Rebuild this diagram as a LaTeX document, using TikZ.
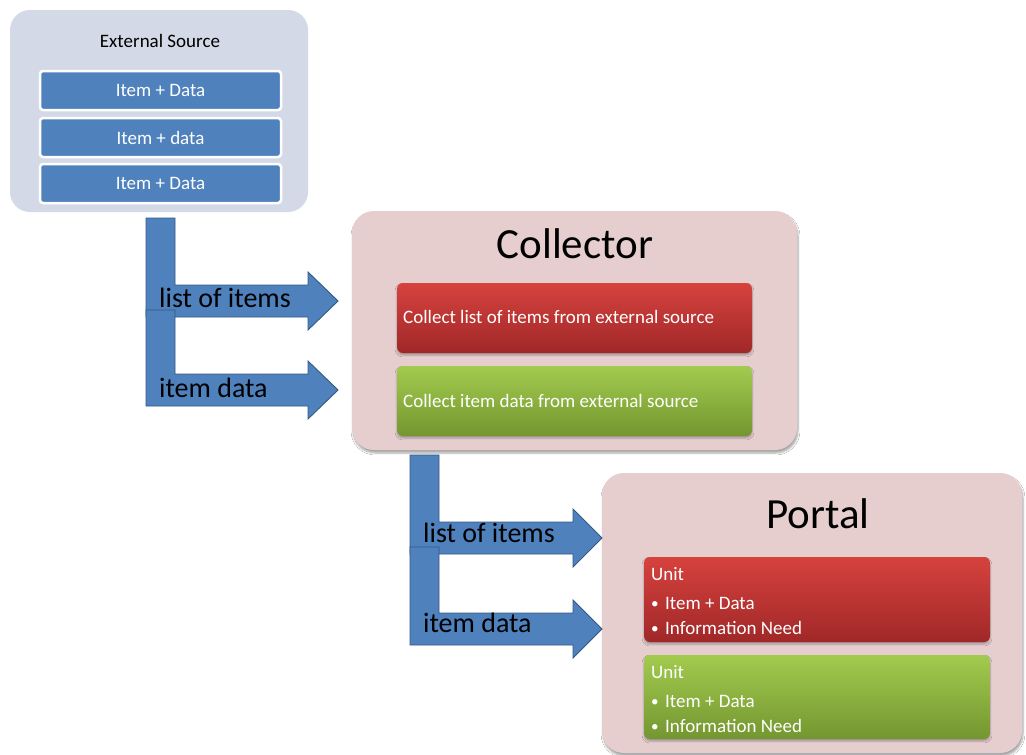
\documentclass[tikz,border=0pt]{standalone}
\usepackage{fontspec}
\setmainfont{Carlito}
\usetikzlibrary{shadows,shadows.blur}

\definecolor{srcbg}{RGB}{211,217,231}
\definecolor{panelbg}{RGB}{230,206,207}
\definecolor{itemblue}{RGB}{79,129,189}
\definecolor{flowedge}{RGB}{52,88,132}
\definecolor{redtop}{RGB}{214,66,62}
\definecolor{redbot}{RGB}{160,40,40}
\definecolor{greentop}{RGB}{162,203,78}
\definecolor{greenbot}{RGB}{116,150,48}

\newcommand\fsz[1]{\fontsize{#1}{#1}\selectfont}
\newcommand\bul{\makebox[14pt][l]{\raisebox{0.5pt}{\scalebox{0.8}{\textbullet}}}}

% L-shaped block arrow: left x, top y, shaft top y, head base x, tip x
\newcommand\bentarrow[5]{%
  \filldraw[flow] (#1,#2) -- ({#1+29},#2) -- ({#1+29},#3) -- (#4,#3)
    -- (#4,{#3-13}) -- (#5,{#3+16}) -- (#4,{#3+45}) -- (#4,{#3+32})
    -- (#1,{#3+32}) -- cycle;}

\begin{document}
\begin{tikzpicture}[x=1pt,y=-1pt,
  box/.style={anchor=north west, inner sep=0pt, outer sep=0pt},
  panel/.style={box, rounded corners=22pt, fill=panelbg,
    blur shadow={shadow xshift=1pt, shadow yshift=-3pt, shadow blur steps=6, shadow opacity=35}},
  srcpanel/.style={box, rounded corners=20pt, fill=srcbg},
  item/.style={inner sep=0pt, minimum width=241pt, minimum height=39pt, rounded corners=3pt,
    fill=itemblue, draw=white, line width=2.5pt, text=white, font=\fsz{19}},
  redbox/.style={box, rounded corners=6pt, top color=redtop, bottom color=redbot,
    blur shadow={shadow xshift=0pt, shadow yshift=-2pt, shadow blur steps=4, shadow opacity=30}},
  greenbox/.style={box, rounded corners=6pt, top color=greentop, bottom color=greenbot,
    blur shadow={shadow xshift=0pt, shadow yshift=-2pt, shadow blur steps=4, shadow opacity=30}},
  title/.style={anchor=base, inner sep=0pt, font=\fsz{43}},
  intext/.style={anchor=base west, inner sep=0pt, text=white, font=\fsz{19}},
  flowlabel/.style={anchor=base west, inner sep=0pt, font=\fsz{28}},
  flow/.style={fill=itemblue, draw=flowedge, line width=0.9pt, line join=miter}]

\useasboundingbox (0,0) rectangle (1026,755);
\fill[white] (0,0) rectangle (1026,755);

% External source with its three records
\node[srcpanel, minimum width=298pt, minimum height=202pt] (src) at (10,10) {};
\node[anchor=base, inner sep=0pt, font=\fsz{19}] (srct) at (160,47) {External Source};
\node[item] (i1) at (160.5,90.5) {Item + Data};
\node[item] (i2) at (160.5,137.5) {Item + data};
\node[item] (i3) at (160.5,183.5) {Item + Data};

% Collector
\node[panel, minimum width=445pt, minimum height=239pt] (col) at (352,211) {};
\node[title] (colt) at (575,258) {Collector};
\node[redbox, minimum width=355pt, minimum height=70pt] (colr) at (397,283) {};
\node[intext] (colrt) at (403,323) {Collect list of items from external source};
\node[greenbox, minimum width=355pt, minimum height=70pt] (colg) at (397,366) {};
\node[intext] (colgt) at (403,407) {Collect item data from external source};

% Portal
\node[panel, minimum width=420pt, minimum height=280pt] (por) at (602,473) {};
\node[title] (port) at (818,528) {Portal};
\node[redbox, minimum width=346pt, minimum height=85pt] (porr) at (644,557) {};
\node[intext] (porr1) at (651,580) {Unit};
\node[intext] (porr2) at (651,609) {\bul Item + Data};
\node[intext] (porr3) at (651,634) {\bul Information Need};
\node[greenbox, minimum width=346pt, minimum height=84pt] (porg) at (644,655) {};
\node[intext] (porg1) at (651,678) {Unit};
\node[intext] (porg2) at (651,707) {\bul Item + Data};
\node[intext] (porg3) at (651,732) {\bul Information Need};

% Flows from the external source into the collector
\bentarrow{146}{218}{285}{308}{338}
\bentarrow{146}{310}{374}{308}{338}
\node[flowlabel] (f1) at (159,307) {list of items};
\node[flowlabel] (f2) at (159,397) {item data};

% Flows from the collector into the portal
\bentarrow{410}{455}{522}{573}{602}
\bentarrow{410}{547}{613}{573}{602}
\node[flowlabel] (f3) at (423,542) {list of items};
\node[flowlabel] (f4) at (423,632) {item data};

\end{tikzpicture}
\end{document}
